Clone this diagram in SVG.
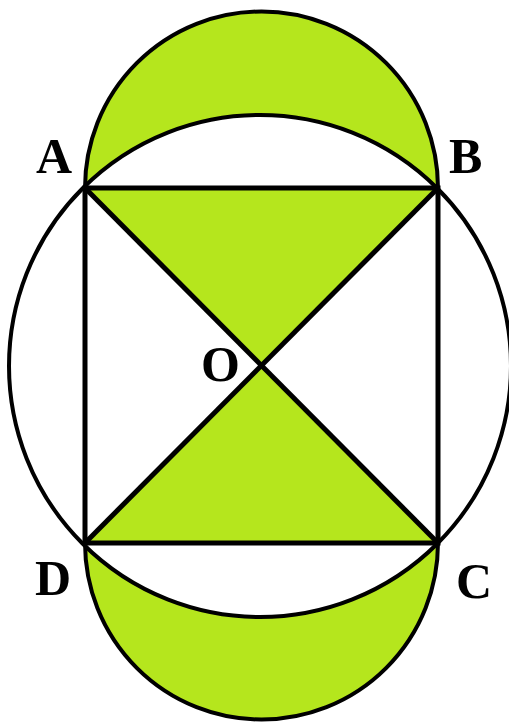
<svg xmlns="http://www.w3.org/2000/svg" width="509" height="722" viewBox="0 0 509 722">
<style>
.g{fill:#b5e61d;stroke:none}
.s{fill:none;stroke:#000;stroke-width:4}
.q{fill:none;stroke:#000;stroke-width:5;stroke-linejoin:miter}
.lbl{font-family:"Liberation Serif","Times New Roman",serif;font-weight:bold;font-size:50px;fill:#000}
</style>
<rect width="509" height="722" fill="#fff"/>
<g id="lune-top">
<path class="g" d="M85,188 A176.5,176.5 0 0 1 438,188 Z"/>
</g>
<g id="lune-bottom">
<path class="g" d="M85,543 A176.5,176.5 0 0 0 438,543 Z"/>
</g>
<g id="circle">
<circle cx="260" cy="366" r="251" fill="#fff" stroke="#000" stroke-width="4"/>
</g>
<g id="triangles">
<polygon class="g" points="85,188 438,188 261.5,365.5"/>
<polygon class="g" points="85,543 438,543 261.5,365.5"/>
</g>
<g id="connectors">
<path class="s" d="M85,188 A176.5,176.5 0 0 1 438,188"/>
<path class="s" d="M85,543 A176.5,176.5 0 0 0 438,543"/>
<rect class="q" x="85" y="188" width="353" height="355"/>
<line class="q" x1="85" y1="188" x2="438" y2="543"/>
<line class="q" x1="438" y1="188" x2="85" y2="543"/>
</g>
<g id="labels">
<text class="lbl" x="36" y="173">A</text>
<text class="lbl" x="449" y="173">B</text>
<text class="lbl" x="456" y="598">C</text>
<text class="lbl" x="35" y="595">D</text>
<text class="lbl" x="201" y="381">O</text>
</g>
</svg>
